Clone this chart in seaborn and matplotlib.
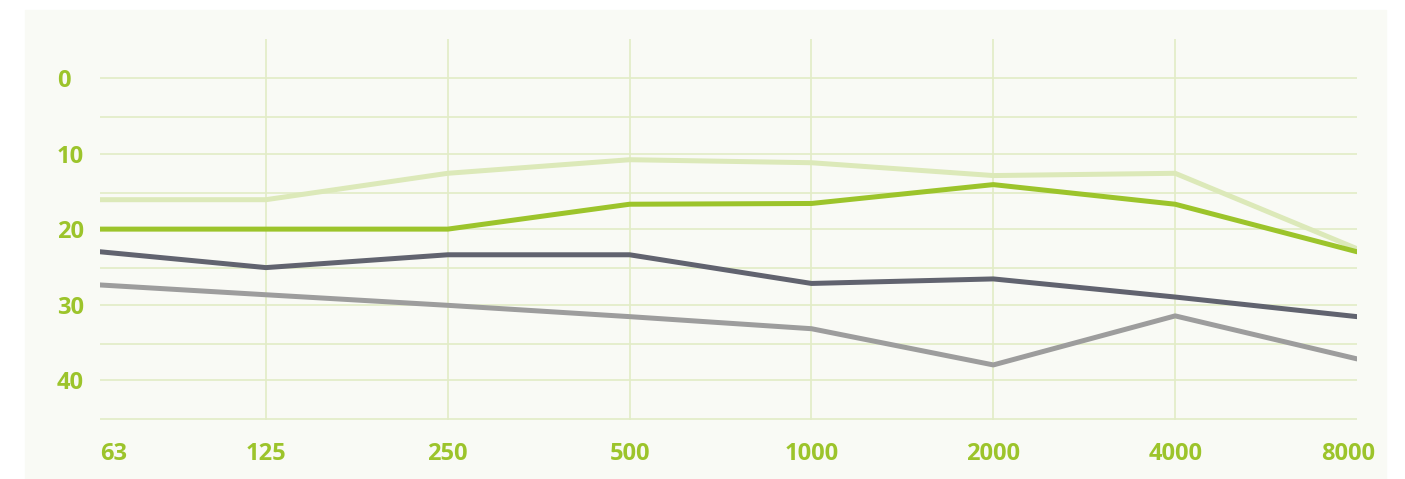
import numpy as np
import pandas as pd
import seaborn as sns
from matplotlib import pyplot as plt
from matplotlib.patches import Rectangle
from matplotlib.ticker import FixedLocator, NullFormatter
import matplotlib.transforms as mtransforms

# частоты, Гц
freqs = [63, 125, 250, 500, 1000, 2000, 4000, 8000]
freq_labels = ['63', '125', '250', '500', '1000', '2000', '4000', '8000']

# значения по кривым (дБ)
light_green = [16.1, 16.1, 12.6, 10.8, 11.2, 12.9, 12.6, 22.6]
green = [20.0, 20.0, 20.0, 16.7, 16.6, 14.1, 16.7, 23.0]
dark_gray = [23.0, 25.1, 23.4, 23.4, 27.2, 26.6, 29.0, 31.6]
light_gray = [27.4, 28.7, 30.1, 31.6, 33.2, 38.0, 31.5, 37.2]

y_ticks = [0, 10, 20, 30, 40]

series = {'s1': light_green, 's2': green, 's3': dark_gray, 's4': light_gray}
palette = {'s1': '#dce9b9', 's2': '#9cc42b', 's3': '#61636f', 's4': '#9d9d9d'}

df = pd.concat([pd.DataFrame({'freq': freqs, 'val': v, 'name': k}) for k, v in series.items()])

# октавная шкала, первый интервал 63-125 на картинке чуть короче
L125 = np.log2(125)
k = 0.923


def fwd(x):
    l = np.log2(np.maximum(x, 1e-9))
    return np.where(l >= L125, l, L125 - (L125 - l) * k)


def inv(y):
    return np.where(y >= L125, 2.0 ** y, 2.0 ** (L125 - (L125 - y) / k))


sns.set_style('white')
plt.rcParams['font.family'] = ['Open Sans', 'DejaVu Sans']

fig = plt.figure(figsize=(14.05, 4.79), dpi=100, facecolor='white')
# светлая подложка
panel = Rectangle((25 / 1405, 0), 1361 / 1405, 469 / 479,
                  transform=fig.transFigure, color='#f9faf5', zorder=-1)
fig.add_artist(panel)
ax = fig.add_axes([100 / 1405, 59 / 479, 1257 / 1405, 381 / 479])
ax.set_zorder(2)
ax.set_facecolor('none')

sns.lineplot(data=df, x='freq', y='val', hue='name', palette=palette, hue_order=list(series),
             sort=False, linewidth=3.6, legend=False, ax=ax, solid_capstyle='round', zorder=3)

ax.set_xscale('function', functions=(fwd, inv))
ax.set_xlim(63, 8000)
ax.set_ylim(45.3, -5.2)
ax.xaxis.set_major_locator(FixedLocator(freqs))
ax.xaxis.set_minor_locator(FixedLocator([]))
ax.set_xticklabels(freq_labels)
ax.yaxis.set_major_locator(FixedLocator(y_ticks))
ax.yaxis.set_minor_locator(FixedLocator([5.2, 15.2, 25.2, 35.2, 45.2]))
ax.yaxis.set_minor_formatter(NullFormatter())
ax.set_yticklabels([str(t) for t in y_ticks])

grid_col = '#e2ecc6'
ax.grid(True, which='both', color=grid_col, linewidth=1.2)
ax.set_axisbelow(True)
xg = ax.xaxis.get_gridlines()
xg[0].set_visible(False)
xg[-1].set_visible(False)

for s in ax.spines.values():
    s.set_visible(False)
ax.tick_params(axis='both', which='both', length=0)
ax.tick_params(axis='x', pad=16)
ax.tick_params(axis='y', pad=31)
ax.set_xlabel('')
ax.set_ylabel('')

for lab in ax.get_xticklabels() + ax.get_yticklabels():
    lab.set_color('#9cc42b')
    lab.set_fontweight('bold')
    lab.set_fontsize(17)
for lab in ax.get_yticklabels():
    lab.set_horizontalalignment('left')
xl = ax.get_xticklabels()
xl[0].set_horizontalalignment('left')
xl[-1].set_transform(xl[-1].get_transform() + mtransforms.ScaledTranslation(-0.09, 0, fig.dpi_scale_trans))

fig.savefig('out.png', dpi=100, facecolor='white')
